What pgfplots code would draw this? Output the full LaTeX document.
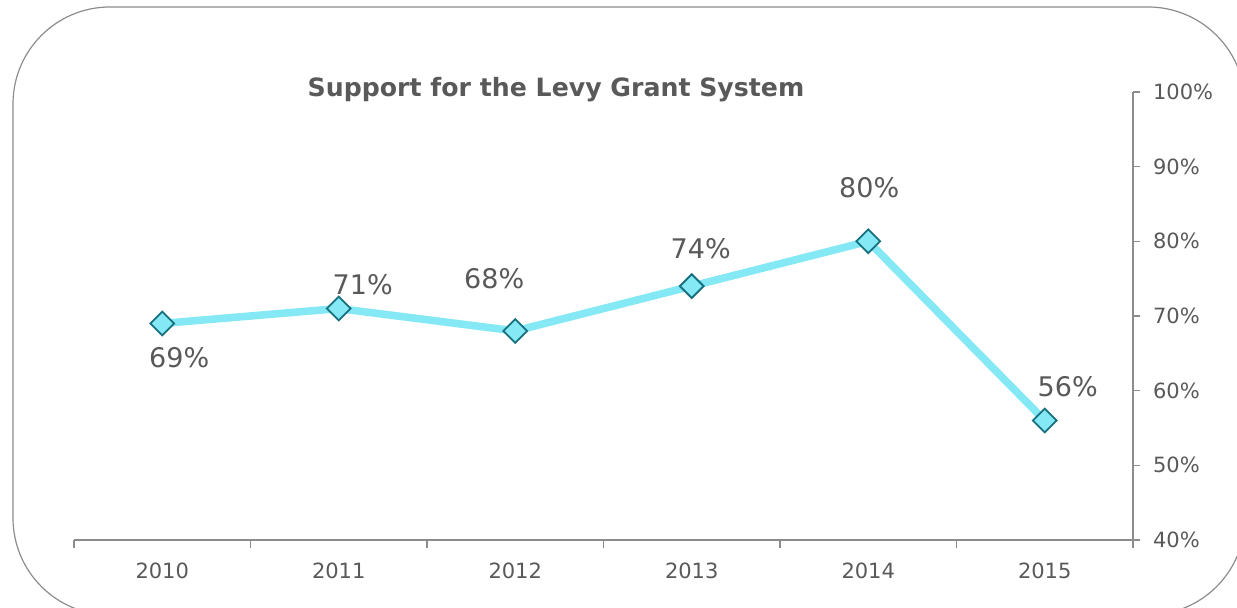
\documentclass[border=0pt]{standalone}
\usepackage{fontspec}
\setmainfont{DejaVu Sans}
\usepackage{pgfplots}
\pgfplotsset{compat=1.18}
\definecolor{linec}{HTML}{85E8F5}
\definecolor{edgec}{HTML}{17707F}
\definecolor{txt}{HTML}{595959}
\definecolor{axc}{HTML}{8C8C8C}
\begin{document}
\begin{tikzpicture}
\useasboundingbox (0,0) rectangle (618.5pt,304pt);
\begin{scope}
\clip (0,0) rectangle (618.5pt,304pt);
\draw[color=axc, line width=0.6pt, rounded corners=48.5pt] (6.5pt,300.5pt) rectangle (622.5pt,-3.5pt);
\end{scope}
\node[font=\fontsize{12.6}{14}\selectfont\bfseries, text=txt] at (278pt,259pt) {Support for the Levy Grant System};
\begin{axis}[
  at={(37pt,34pt)}, anchor=south west,
  width=529.5pt, height=224pt, scale only axis,
  xmin=-0.5, xmax=5.5, ymin=40, ymax=100,
  axis x line*=bottom, axis y line*=right,
  axis line style={axc, line width=0.75pt},
  xtick={0,...,5}, xticklabels={2010,2011,2012,2013,2014,2015},
  major x tick style={draw=none},
  minor xtick={-0.5,0.5,...,5.5},
  minor tick length=4pt,
  minor x tick style={axc, line width=0.75pt},
  ytick={40,50,...,100},
  y tick style={axc, line width=0.75pt},
  major tick length=3.5pt,
  tick align=outside,
  yticklabel={\pgfmathprintnumber{\tick}\%},
  /pgf/number format/assume math mode=true,
  every tick label/.append style={text=txt, font=\fontsize{10.5}{12}\selectfont},
  xticklabel style={anchor=center, yshift=-12pt},
  yticklabel style={anchor=west, xshift=3pt},
  clip=false,
]
\addplot[linec, line width=3.8pt, mark=square*, mark size=4.2pt,
  mark options={rotate=45, fill=linec, draw=edgec, line width=0.9pt}]
  coordinates {(0,69)(1,71)(2,68)(3,74)(4,80)(5,56)};
\begin{scope}[every node/.style={text=txt, font=\fontsize{13.5}{15}\selectfont}]
\node at (axis cs:0,69) [xshift=8.5pt, yshift=-17pt] {69\%};
\node at (axis cs:1,71) [xshift=12pt, yshift=12pt] {71\%};
\node at (axis cs:2,68) [xshift=-10.5pt, yshift=26pt] {68\%};
\node at (axis cs:3,74) [xshift=4.5pt, yshift=18.5pt] {74\%};
\node at (axis cs:4,80) [xshift=0.5pt, yshift=27pt] {80\%};
\node at (axis cs:5,56) [xshift=11.5pt, yshift=17pt] {56\%};
\end{scope}
\end{axis}
\end{tikzpicture}
\end{document}
